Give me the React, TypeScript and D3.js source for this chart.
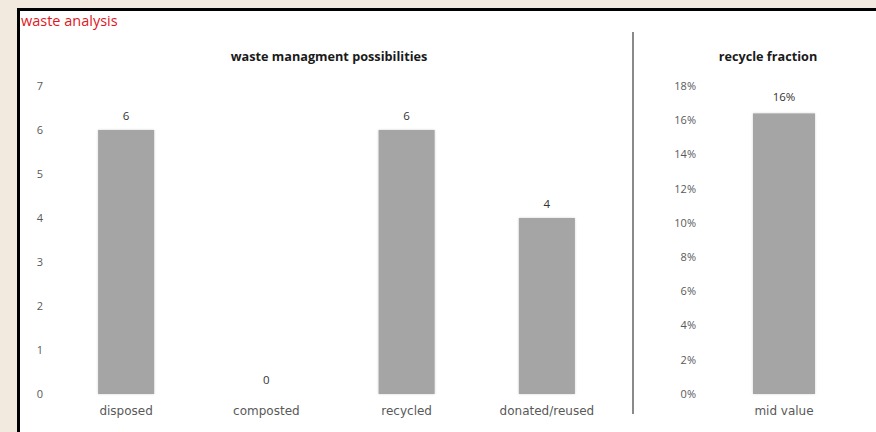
import React from "react";
import * as d3 from "d3";

// Waste handling counts
const categories = ["disposed", "composted", "recycled", "donated/reused"];
const counts = [6, 0, 6, 4];
const countTicks = [0, 1, 2, 3, 4, 5, 6, 7];

// Recycle fraction
const fractionCategories = ["mid value"];
const fractions = [0.164];
const fractionTicks = [0, 0.02, 0.04, 0.06, 0.08, 0.1, 0.12, 0.14, 0.16, 0.18];

const W = 876;
const H = 432;
const BAR = "#a5a5a5";
const TEXT = "#595959";
const LABEL_FONT = "'Open Sans', 'Liberation Sans', Arial, sans-serif";
const CAT_FONT = "'DejaVu Sans', Verdana, sans-serif";
const TITLE_FONT = "'Open Sans', 'Liberation Sans', sans-serif";

export default function App() {
  const xLeft = d3
    .scaleBand<string>()
    .domain(categories)
    .range([56, 617])
    .paddingInner(0.6)
    .paddingOuter(0.3);
  const yLeft = d3.scaleLinear().domain([0, 7]).range([394, 86]);

  const xRight = d3
    .scaleBand<string>()
    .domain(fractionCategories)
    .range([722, 846])
    .paddingInner(0.5)
    .paddingOuter(0.25);
  const yRight = d3.scaleLinear().domain([0, 0.18]).range([394, 86]);
  const pct = d3.format(".0%");

  return (
    <svg
      width={W}
      height={H}
      style={{ position: "absolute", left: 0, top: 0, display: "block" }}
    >
      <defs>
        <filter id="barShadow" x="-10%" y="-5%" width="120%" height="110%">
          <feDropShadow dx="0" dy="0" stdDeviation="1" floodColor="#000" floodOpacity="0.18" />
        </filter>
      </defs>
      <rect x={0} y={0} width={W} height={H} fill="#f3eadf" />
      <rect x={18.5} y={9.5} width={W} height={H} fill="#fff" stroke="#000" strokeWidth={3} />

      <text x={21} y={26} fontFamily={TITLE_FONT} fontSize={14.5} fill="#e0161e">
        waste analysis
      </text>

      {/* left chart */}
      <text x={329} y={61} textAnchor="middle" fontFamily={TITLE_FONT} fontWeight="bold" fontSize={12.7} fill="#1a1a1a">
        waste managment possibilities
      </text>
      {countTicks.map((t) => (
        <text key={t} x={40} y={yLeft(t) + 1} textAnchor="middle" dominantBaseline="middle" fontFamily={LABEL_FONT} fontSize={11} fill={TEXT}>
          {t}
        </text>
      ))}
      {categories.map((c, i) => (
        <g key={c}>
          {counts[i] > 0 && (
            <rect
              x={xLeft(c)!}
              y={yLeft(counts[i])}
              width={xLeft.bandwidth()}
              height={yLeft(0) - yLeft(counts[i])}
              fill={BAR}
              filter="url(#barShadow)"
            />
          )}
          <text x={xLeft(c)! + xLeft.bandwidth() / 2} y={yLeft(counts[i]) - 10} textAnchor="middle" fontFamily={LABEL_FONT} fontSize={11.5} fill="#333">
            {counts[i]}
          </text>
          <text x={xLeft(c)! + xLeft.bandwidth() / 2} y={415} textAnchor="middle" fontFamily={CAT_FONT} fontSize={12} fill={TEXT}>
            {c}
          </text>
        </g>
      ))}

      <line x1={633} x2={633} y1={32} y2={414} stroke="#8a8a8a" strokeWidth={2} />

      {/* right chart */}
      <text x={768} y={61} textAnchor="middle" fontFamily={TITLE_FONT} fontWeight="bold" fontSize={12.7} fill="#1a1a1a">
        recycle fraction
      </text>
      {fractionTicks.map((t) => (
        <text key={t} x={696} y={yRight(t) + 1} textAnchor="end" dominantBaseline="middle" fontFamily={LABEL_FONT} fontSize={11} fill={TEXT}>
          {pct(t)}
        </text>
      ))}
      {fractionCategories.map((c, i) => (
        <g key={c}>
          <rect
            x={xRight(c)!}
            y={yRight(fractions[i])}
            width={xRight.bandwidth()}
            height={yRight(0) - yRight(fractions[i])}
            fill={BAR}
            filter="url(#barShadow)"
          />
          <text x={xRight(c)! + xRight.bandwidth() / 2} y={yRight(fractions[i]) - 12} textAnchor="middle" fontFamily={LABEL_FONT} fontSize={11.5} fill="#333">
            {pct(fractions[i])}
          </text>
          <text x={xRight(c)! + xRight.bandwidth() / 2} y={415} textAnchor="middle" fontFamily={CAT_FONT} fontSize={12} fill={TEXT}>
            {c}
          </text>
        </g>
      ))}
    </svg>
  );
}
